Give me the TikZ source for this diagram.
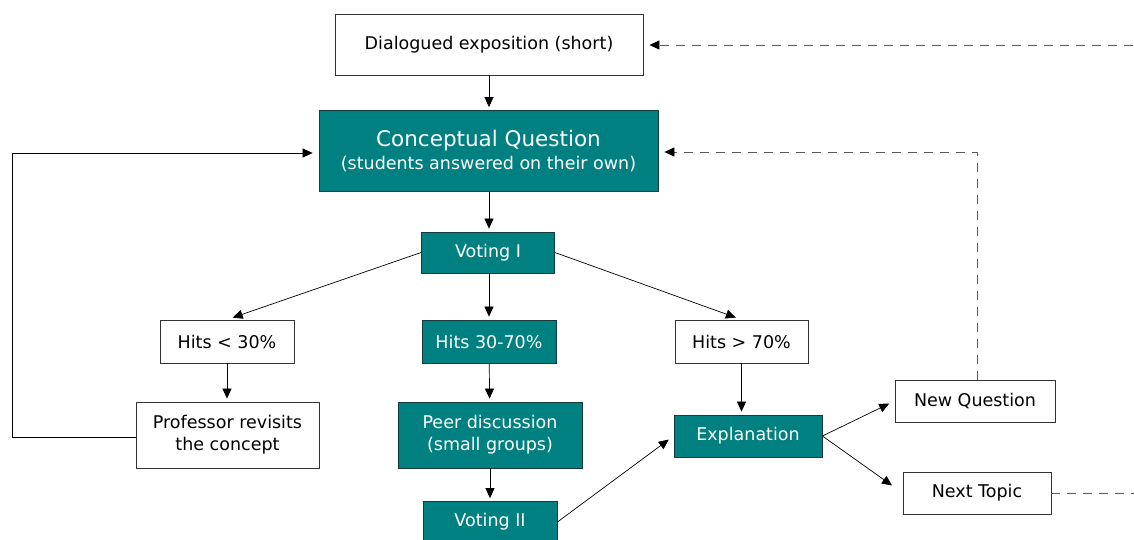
\documentclass[tikz,border=0pt]{standalone}
\usepackage{fontspec}
\setmainfont{DejaVu Sans}
\usetikzlibrary{arrows.meta}
\definecolor{teal1}{RGB}{0,128,128}
\definecolor{tealborder}{RGB}{20,60,60}
\definecolor{dashgray}{RGB}{90,90,90}
\begin{document}
\begin{tikzpicture}[x=1pt,y=-1pt,
  wbox/.style={draw=black!80, fill=white, line width=0.8pt, inner sep=0pt, align=center, font=\fontsize{17.5}{22}\selectfont},
  tbox/.style={draw=tealborder, fill=teal1, text=white, line width=0.8pt, inner sep=0pt, align=center, font=\fontsize{17.5}{22}\selectfont},
  arr/.style={-{Triangle[length=10pt,width=9pt]}, line width=0.7pt, shorten >=3pt},
  darr/.style={-{Triangle[length=10pt,width=9pt,color=black]}, line width=0.8pt, dashgray, dash pattern=on 9pt off 7pt, shorten >=6pt}]
\useasboundingbox (0,0) rectangle (1134,540);
\clip (0,0) rectangle (1134,540);
\node[wbox, minimum width=308pt, minimum height=61pt] (dial) at (489,44.5) {Dialogued exposition (short)};
\node[tbox, minimum width=339pt, minimum height=81pt] (cq) at (488.5,151) {{\fontsize{21.5}{25}\selectfont Conceptual Question}\\[1pt](students answered on their own)};
\node[tbox, minimum width=133pt, minimum height=41pt] (v1) at (488,252.5) {Voting I};
\node[wbox, minimum width=134pt, minimum height=43pt] (h1) at (227,341.5) {Hits < 30\%};
\node[tbox, minimum width=134pt, minimum height=43pt] (h2) at (489,341.5) {Hits 30-70\%};
\node[wbox, minimum width=133pt, minimum height=43pt] (h3) at (741.5,341.5) {Hits > 70\%};
\node[wbox, minimum width=183pt, minimum height=66pt] (prof) at (227.5,435) {Professor revisits\\the concept};
\node[tbox, minimum width=184pt, minimum height=66pt] (peer) at (490,435) {Peer discussion\\(small groups)};
\node[tbox, minimum width=134pt, minimum height=41pt] (v2) at (490,522) {Voting II};
\node[tbox, minimum width=148pt, minimum height=42pt] (expl) at (748,436) {Explanation};
\node[wbox, minimum width=160pt, minimum height=42pt] (newq) at (975,401) {New Question};
\node[wbox, minimum width=148pt, minimum height=42pt] (next) at (977,493) {Next Topic};
\coordinate (lc1) at (12,437);
\coordinate (lc2) at (12,153);
\coordinate (dc1) at (977,152);
\coordinate (rc1) at (1140,493);
\coordinate (rc2) at (1140,45);

\draw[arr] (dial.south -| 489,0) -- (cq.north -| 489,0);
\draw[arr] (cq.south -| 489,0) -- (v1.north -| 489,0);
\draw[arr, shorten >=6pt] (v1.west) -- (h1.north);
\draw[arr] (v1.south -| 489,0) -- (h2.north);
\draw[arr, shorten >=6pt] (v1.east) -- (h3.north);
\draw[arr] (h1.south) -- (h1.south |- prof.north);
\draw[arr] (h2) -- (peer);
\draw[arr] (peer) -- (v2);
\draw[arr] (h3.south) -- (h3.south |- expl.north);
\draw[arr, shorten >=6pt] (v2.east) -- (expl.west);
\draw[arr, shorten >=6pt] (expl.east) -- (newq.west);
\draw[arr, shorten >=13pt] (expl.east) -- (next.west);
\draw[arr, shorten >=6pt] (prof.west |- lc1) -- (lc1) -- (lc2) -- (cq.west |- lc2);
\draw[darr] (newq.north -| dc1) -- (dc1) -- (cq.east |- dc1);
\draw[darr] (next.east) -- (rc1) -- (rc2) -- (dial.east |- rc2);
\end{tikzpicture}
\end{document}
